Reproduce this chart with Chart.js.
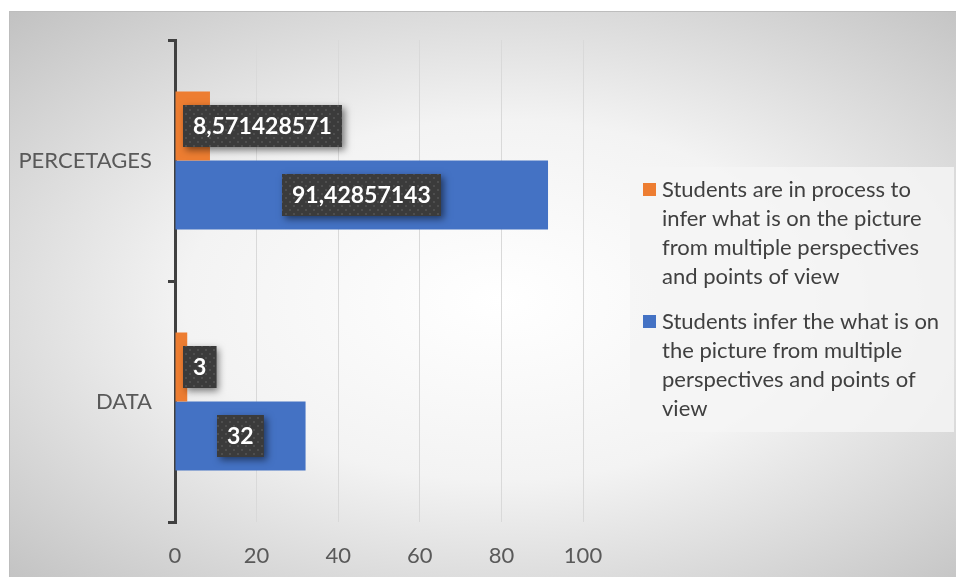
<!DOCTYPE html>
<html>
<head>
<meta charset="utf-8">
<script src="https://cdn.jsdelivr.net/npm/chart.js@4.4.1/dist/chart.umd.min.js"></script>
<style>
  html, body { margin: 0; padding: 0; background: #ffffff; }
  #wrap { position: relative; width: 956px; height: 577px; }
</style>
</head>
<body>
<div id="wrap"><canvas id="studentsChart"></canvas></div>
<script>
const categories = ["PERCETAGES", "DATA"];
const inProcessValues = [8.571428571, 3];
const inferValues = [91.42857143, 32];
const xTickStep = 20;
const xMin = 0;
const xMax = 100;
const seriesLabels = [
  "Students are in process to infer what is on the picture from multiple perspectives and points of view",
  "Students infer the what is on the picture from multiple perspectives and points of view",
];
const seriesColors = ["#ED7D31", "#4472C4"];

const FONT = "Lato, 'Open Sans', sans-serif";

// Grey panel with a soft white centre behind everything
const panelBackground = {
  id: "panelBackground",
  beforeDraw(chart) {
    const { ctx, width, height } = chart;
    ctx.save();
    ctx.fillStyle = "#ffffff";
    ctx.fillRect(0, 0, width, height);
    const cx = 500, cy = 300, rx = 700, ry = 400;
    ctx.translate(cx, cy);
    ctx.scale(1, ry / rx);
    const g = ctx.createRadialGradient(0, 0, 0, 0, 0, rx);
    g.addColorStop(0, "#ffffff");
    g.addColorStop(0.45, "#f3f3f3");
    g.addColorStop(1, "#c2c2c2");
    ctx.fillStyle = g;
    ctx.fillRect(9 - cx, (11 - cy) * rx / ry, (width - 9), (height - 11) * rx / ry);
    ctx.restore();
    ctx.save();
    ctx.strokeStyle = "#bdbdbd";
    ctx.lineWidth = 1;
    ctx.beginPath();
    ctx.moveTo(9.5, height);
    ctx.lineTo(9.5, 11.5);
    ctx.lineTo(width, 11.5);
    ctx.stroke();
    ctx.restore();
  },
};

function dotPattern(ctx) {
  const c = document.createElement("canvas");
  c.width = 8;
  c.height = 8;
  const p = c.getContext("2d");
  p.fillStyle = "#3b3b3b";
  p.fillRect(0, 0, 8, 8);
  p.fillStyle = "#4e4e4e";
  p.fillRect(1, 1, 2, 2);
  p.fillRect(5, 5, 2, 2);
  return ctx.createPattern(c, "repeat");
}

// Dark value boxes with white bold numbers
const valueBoxes = {
  id: "valueBoxes",
  afterDatasetsDraw(chart) {
    const { ctx } = chart;
    const pattern = dotPattern(ctx);
    ctx.save();
    ctx.font = "bold 23px " + FONT;
    chart.data.datasets.forEach((ds, di) => {
      const meta = chart.getDatasetMeta(di);
      meta.data.forEach((bar, i) => {
        const text = String(ds.data[i]).replace(".", ",");
        const w = ctx.measureText(text).width + 20;
        const h = 42;
        const cx = Math.max((bar.x + bar.base) / 2, bar.base + 7 + w / 2);
        const x = Math.round(cx - w / 2);
        const y = Math.round(bar.y - h / 2);
        ctx.save();
        ctx.shadowColor = "rgba(0,0,0,0.5)";
        ctx.shadowBlur = 7;
        ctx.shadowOffsetX = 3;
        ctx.shadowOffsetY = 3;
        ctx.fillStyle = "#3b3b3b";
        ctx.fillRect(x, y, w, h);
        ctx.restore();
        ctx.fillStyle = pattern;
        ctx.fillRect(x, y, w, h);
        ctx.fillStyle = "#ffffff";
        ctx.textAlign = "center";
        ctx.textBaseline = "middle";
        ctx.fillText(text, x + w / 2, y + h / 2 + 1);
      });
    });
    ctx.restore();
  },
};

function wrapText(ctx, text, maxWidth) {
  const words = text.split(" ");
  const lines = [];
  let line = "";
  words.forEach((word) => {
    const test = line ? line + " " + word : word;
    if (ctx.measureText(test).width > maxWidth && line) {
      lines.push(line);
      line = word;
    } else {
      line = test;
    }
  });
  if (line) lines.push(line);
  return lines;
}

// Legend box on the right with wrapped series names
const sideLegend = {
  id: "sideLegend",
  afterDraw(chart) {
    const { ctx } = chart;
    const box = { x: 630, y: 167, w: 324, h: 265 };
    ctx.save();
    ctx.fillStyle = "rgba(244,244,244,0.85)";
    ctx.fillRect(box.x, box.y, box.w, box.h);
    ctx.font = "22px " + FONT;
    ctx.textBaseline = "middle";
    ctx.textAlign = "left";
    const lineH = 29;
    let y = 190;
    chart.data.datasets.forEach((ds) => {
      ctx.fillStyle = ds.backgroundColor;
      ctx.fillRect(643, y - 7, 13, 13);
      ctx.fillStyle = "#404040";
      const lines = wrapText(ctx, ds.label, 285);
      lines.forEach((ln, k) => {
        ctx.fillText(ln, 662, y + k * lineH);
      });
      y += lines.length * lineH + 16;
    });
    ctx.restore();
  },
};

const canvas = document.getElementById("studentsChart");
canvas.width = 956;
canvas.height = 577;

new Chart(canvas.getContext("2d"), {
  type: "bar",
  data: {
    labels: categories,
    datasets: [
      {
        label: seriesLabels[0],
        data: inProcessValues,
        backgroundColor: seriesColors[0],
      },
      {
        label: seriesLabels[1],
        data: inferValues,
        backgroundColor: seriesColors[1],
      },
    ],
  },
  options: {
    indexAxis: "y",
    responsive: false,
    animation: false,
    categoryPercentage: 0.572,
    barPercentage: 1,
    layout: {
      padding: { top: 40, right: 373, left: 0, bottom: 0 },
    },
    plugins: {
      legend: { display: false },
      tooltip: { enabled: false },
    },
    scales: {
      x: {
        min: xMin,
        max: xMax,
        ticks: {
          stepSize: xTickStep,
          color: "#595959",
          font: { family: FONT, size: 22 },
          padding: 21,
        },
        grid: { color: "#d9d9d9", lineWidth: 1, drawTicks: false },
        border: { display: false },
        afterFit(scale) {
          scale.height = 55;
        },
      },
      y: {
        ticks: {
          color: "#595959",
          font: { family: FONT, size: 22 },
          padding: 16,
        },
        grid: {
          display: true,
          drawOnChartArea: false,
          drawTicks: true,
          tickLength: 7,
          lineWidth: 3,
          color: "#404040",
          offset: true,
        },
        border: { display: true, color: "#404040", width: 3 },
        afterFit(scale) {
          scale.width = 175;
        },
      },
    },
  },
  plugins: [panelBackground, valueBoxes, sideLegend],
});
</script>
</body>
</html>
